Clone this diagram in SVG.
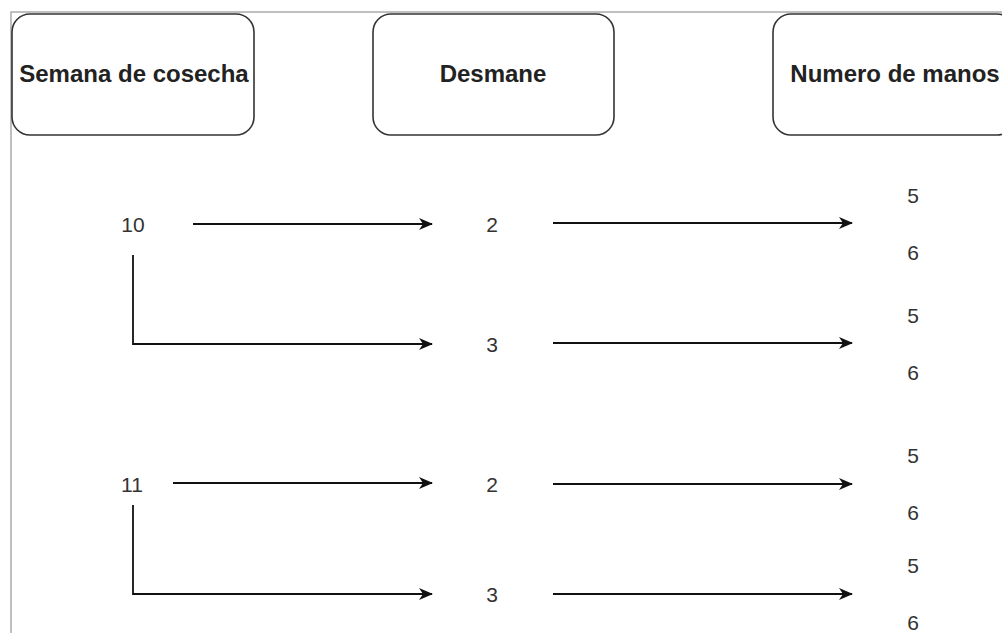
<svg xmlns="http://www.w3.org/2000/svg" width="1002" height="633" viewBox="0 0 1002 633">
<defs>
<style>
.box{fill:#fff;stroke:#333;stroke-width:1.6}
.hdr{font-family:"Liberation Sans",Arial,sans-serif;font-weight:bold;font-size:24px;fill:#222;text-anchor:middle}
.num{font-family:"Liberation Sans",Arial,sans-serif;font-size:21px;fill:#333;text-anchor:middle}
.ln{fill:none;stroke:#111;stroke-width:1.8}
</style>
<marker id="ah" viewBox="0 0 14 12" refX="13" refY="6" markerWidth="14" markerHeight="12" markerUnits="userSpaceOnUse" orient="auto">
<path d="M0,0 L14,6 L0,12 L4,6 Z" fill="#111"/>
</marker>
</defs>
<rect width="1002" height="633" fill="#fff"/>
<path d="M11,633 V12 H1002" fill="none" stroke="#aaa" stroke-width="1.5"/>
<g id="node-semana"><rect class="box" x="12" y="14" width="242" height="121" rx="18"/><text class="hdr" x="134" y="82">Semana de cosecha</text></g>
<g id="node-desmane"><rect class="box" x="373" y="14" width="241" height="121" rx="18"/><text class="hdr" x="493" y="82">Desmane</text></g>
<g id="node-numero"><rect class="box" x="773" y="14" width="242" height="121" rx="18"/><text class="hdr" x="895" y="82">Numero de manos</text></g>
<g id="node-10"><text class="num" x="133" y="232">10</text></g>
<g id="node-11"><text class="num" x="132" y="492">11</text></g>
<g id="node-d2a"><text class="num" x="492" y="232">2</text></g>
<g id="node-d3a"><text class="num" x="492" y="352">3</text></g>
<g id="node-d2b"><text class="num" x="492" y="492">2</text></g>
<g id="node-d3b"><text class="num" x="492" y="602">3</text></g>
<g id="node-m1"><text class="num" x="913" y="203">5</text><text class="num" x="913" y="260">6</text></g>
<g id="node-m2"><text class="num" x="913" y="323">5</text><text class="num" x="913" y="380">6</text></g>
<g id="node-m3"><text class="num" x="913" y="463">5</text><text class="num" x="913" y="520">6</text></g>
<g id="node-m4"><text class="num" x="913" y="573">5</text><text class="num" x="913" y="630">6</text></g>
<g id="connectors">
<path class="ln" d="M193,224 H432" marker-end="url(#ah)"/>
<path class="ln" d="M133,255 V344 H432" marker-end="url(#ah)"/>
<path class="ln" d="M553,223 H852" marker-end="url(#ah)"/>
<path class="ln" d="M553,343 H852" marker-end="url(#ah)"/>
<path class="ln" d="M173,483 H432" stroke="#555" marker-end="url(#ah)"/>
<path class="ln" d="M133,505 V594 H432" marker-end="url(#ah)"/>
<path class="ln" d="M553,484 H852" marker-end="url(#ah)"/>
<path class="ln" d="M553,594 H852" marker-end="url(#ah)"/>
</g>
</svg>
